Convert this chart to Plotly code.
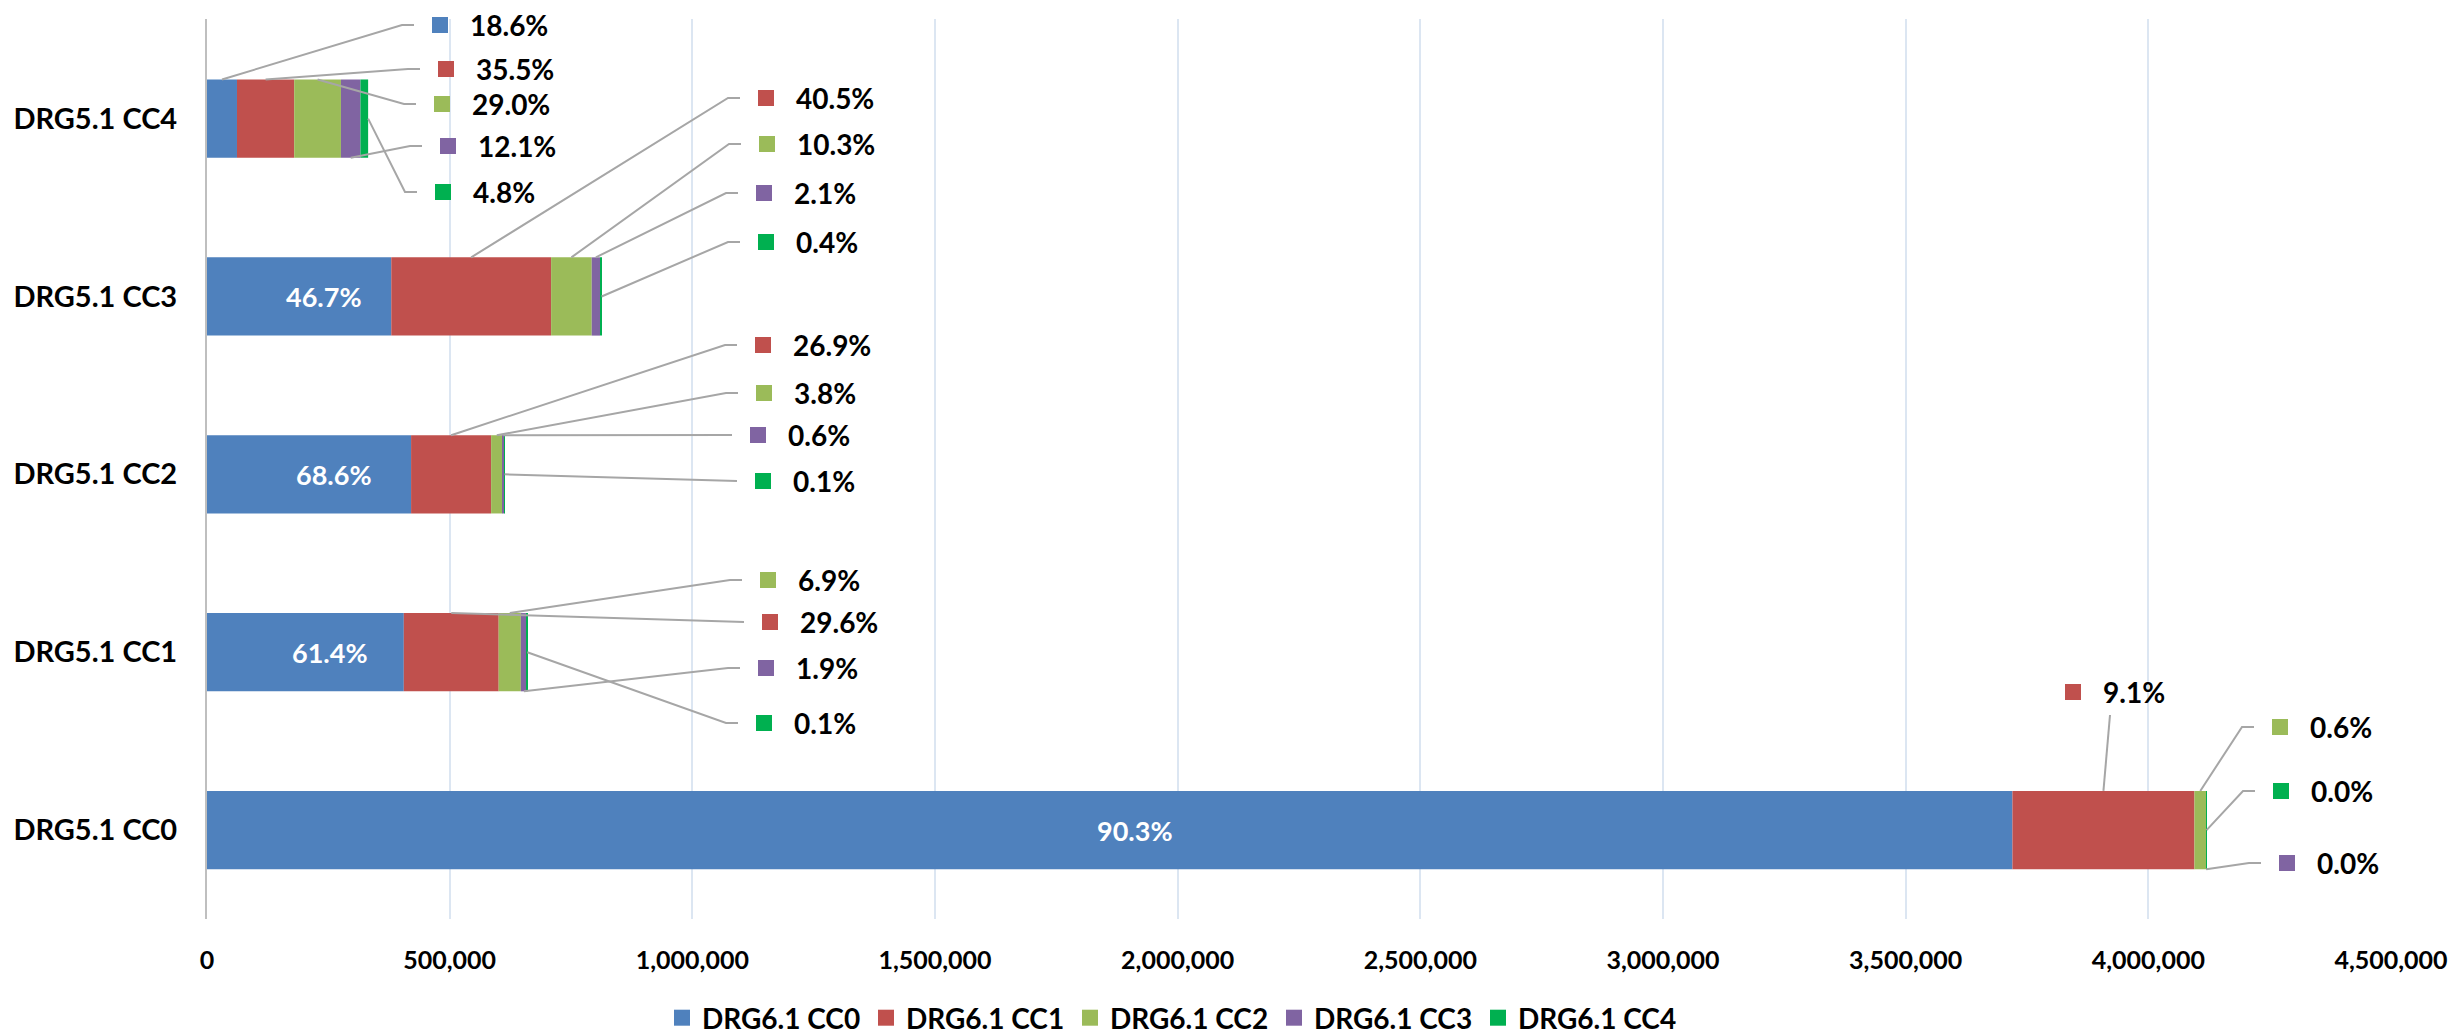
import plotly.graph_objects as go

categories = ["DRG5.1 CC0", "DRG5.1 CC1", "DRG5.1 CC2", "DRG5.1 CC3", "DRG5.1 CC4"]
series_names = ["DRG6.1 CC0", "DRG6.1 CC1", "DRG6.1 CC2", "DRG6.1 CC3", "DRG6.1 CC4"]

# cases per DRG6.1 class, one value per DRG5.1 row (CC0 .. CC4)
drg61_cc0 = [3720000, 405500, 420500, 379700, 61800]
drg61_cc1 = [375000, 195500, 164900, 329300, 117900]
drg61_cc2 = [24000, 45700, 23300, 83700, 96300]
drg61_cc3 = [800, 12500, 3700, 17100, 40200]
drg61_cc4 = [200, 800, 600, 3200, 15800]

x_ticks = [0, 500000, 1000000, 1500000, 2000000, 2500000, 3000000, 3500000, 4000000, 4500000]

colors = ["#4F81BD", "#C0504D", "#9BBB59", "#8064A2", "#00B050"]
FONT = "Lato"

# page pixels; the html body adds an 8px margin, so the figure is shifted back by it
PAGE_W, PAGE_H = 2458, 1034
BODY = 8
W, H = PAGE_W - BODY, PAGE_H - BODY
PLOT_L, PLOT_R = 207 - BODY, 2391 - BODY
PLOT_T, PLOT_B = 19 - BODY, 919 - BODY
X_MAX = 4500000
Y_MIN, Y_MAX = -0.5, 4.56
BAR_W = 0.44


def px_to_x(px):
    # px is a page pixel as measured on the reference
    return (px - BODY - PLOT_L) / (PLOT_R - PLOT_L) * X_MAX


def px_to_y(py):
    return Y_MIN + (PLOT_B - (py - BODY)) / (PLOT_B - PLOT_T) * (Y_MAX - Y_MIN)


# callout placement: (row, series) -> (square centre x px, y px, where the leader attaches)
callouts = {
    (4, 0): (440, 25, "top"),
    (4, 1): (446, 69, "top"),
    (4, 2): (442, 104, "top"),
    (4, 3): (448, 146, "bottom"),
    (4, 4): (443, 192, "right"),
    (3, 1): (766, 98, "top"),
    (3, 2): (767, 144, "top"),
    (3, 3): (764, 193, "top"),
    (3, 4): (766, 242, "right"),
    (2, 1): (763, 345, "top"),
    (2, 2): (764, 393, "top"),
    (2, 3): (758, 435, "top"),
    (2, 4): (763, 481, "right"),
    (1, 1): (770, 622, "top"),
    (1, 2): (768, 580, "top"),
    (1, 3): (766, 668, "bottom"),
    (1, 4): (764, 723, "right"),
    (0, 1): (2073, 692, "below"),
    (0, 2): (2280, 727, "top"),
    (0, 3): (2287, 863, "bottom"),
    (0, 4): (2281, 791, "right"),
}

series = [drg61_cc0, drg61_cc1, drg61_cc2, drg61_cc3, drg61_cc4]
rows = list(range(len(categories)))
totals = [sum(s[i] for s in series) for i in rows]

starts = []
acc = [0] * len(rows)
for s in series:
    starts.append(list(acc))
    acc = [a + v for a, v in zip(acc, s)]

fig = go.Figure()

for k, s in enumerate(series):
    fig.add_trace(
        go.Bar(
            y=rows,
            x=s,
            base=starts[k],
            orientation="h",
            width=BAR_W,
            marker=dict(color=colors[k], line=dict(width=0)),
            showlegend=False,
            hoverinfo="skip",
        )
    )

# leader lines
lx, ly = [], []
for (r, k), (sx, sy, side) in callouts.items():
    v0 = starts[k][r]
    v = series[k][r]
    if side == "bottom":
        ax, ay = v0 + v / 2, r - BAR_W / 2
    elif side == "right":
        ax, ay = v0 + v, r
    else:
        ax, ay = v0 + v / 2, r + BAR_W / 2
    if side == "below":
        lx += [ax, px_to_x(sx + 37), None]
        ly += [ay, px_to_y(sy + 23), None]
    else:
        lx += [ax, px_to_x(sx - 38), px_to_x(sx - 26), None]
        ly += [ay, px_to_y(sy), px_to_y(sy), None]

fig.add_trace(
    go.Scatter(
        x=lx,
        y=ly,
        mode="lines",
        line=dict(color="#A6A6A6", width=2),
        showlegend=False,
        hoverinfo="skip",
    )
)

# legend keys of the callouts, also used for the legend
for k, name in enumerate(series_names):
    pts = [(px_to_x(sx), px_to_y(sy)) for (r, kk), (sx, sy, _) in callouts.items() if kk == k]
    fig.add_trace(
        go.Scatter(
            x=[p[0] for p in pts],
            y=[p[1] for p in pts],
            mode="markers",
            name=name,
            marker=dict(symbol="square", size=16, color=colors[k]),
            cliponaxis=False,
            hoverinfo="skip",
        )
    )

for (r, k), (sx, sy, _) in callouts.items():
    fig.add_annotation(
        x=px_to_x(sx),
        y=px_to_y(sy),
        xref="x",
        yref="y",
        text=f"{series[k][r] / totals[r] * 100:.1f}%",
        showarrow=False,
        xanchor="left",
        yanchor="middle",
        xshift=28,
        font=dict(family=FONT, size=28, color="#000000", weight="bold"),
    )

# labels inside the blue segments (the key square is blue on blue)
for r in rows:
    if (r, 0) in callouts:
        continue
    fig.add_annotation(
        x=starts[0][r] + drg61_cc0[r] / 2,
        y=r,
        xref="x",
        yref="y",
        text=f"{drg61_cc0[r] / totals[r] * 100:.1f}%",
        showarrow=False,
        xshift=25,
        font=dict(family=FONT, size=27, color="#FFFFFF", weight="bold"),
    )

fig.update_layout(
    width=W,
    height=H,
    margin=dict(l=PLOT_L, r=W - PLOT_R, t=PLOT_T, b=H - PLOT_B, pad=0),
    plot_bgcolor="white",
    paper_bgcolor="white",
    barmode="overlay",
    hovermode=False,
    font=dict(family=FONT, color="#000000"),
    legend=dict(
        orientation="h",
        xref="container",
        yref="container",
        x=(662 - BODY) / W,
        y=(H - (1018 - BODY)) / H,
        xanchor="left",
        yanchor="middle",
        font=dict(family=FONT, size=28, color="#000000", weight="bold"),
        entrywidth=159,
        itemclick=False,
    ),
)

fig.update_xaxes(
    range=[0, X_MAX],
    tickvals=x_ticks,
    tickformat=",d",
    showgrid=True,
    gridcolor="#DCE6F2",
    gridwidth=2,
    zeroline=False,
    showline=False,
    ticks="",
    automargin=False,
    ticklabelstandoff=24,
    tickfont=dict(family=FONT, size=25, color="#000000", weight="bold"),
)

fig.update_yaxes(
    range=[Y_MIN, Y_MAX],
    tickvals=rows,
    ticktext=categories,
    showgrid=False,
    zeroline=False,
    showline=True,
    linecolor="#BFBFBF",
    linewidth=2,
    ticks="",
    automargin=False,
    ticklabelstandoff=22,
    tickfont=dict(family=FONT, size=29, color="#000000", weight="bold"),
)

fig.write_html("out.html")
